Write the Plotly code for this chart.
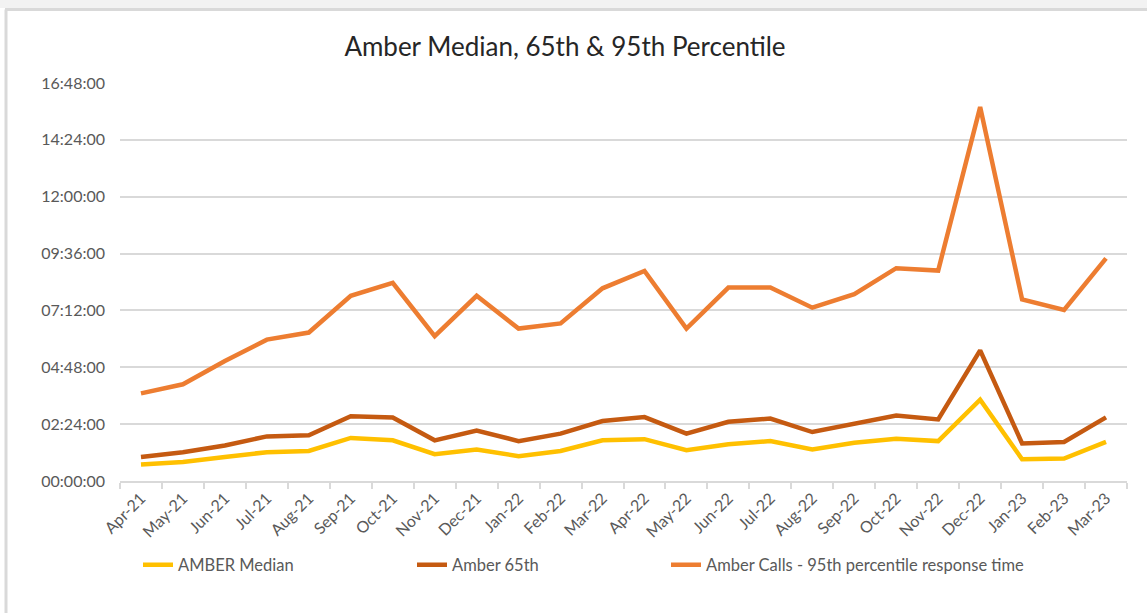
import plotly.graph_objects as go

months = ["Apr-21","May-21","Jun-21","Jul-21","Aug-21","Sep-21","Oct-21","Nov-21","Dec-21",
          "Jan-22","Feb-22","Mar-22","Apr-22","May-22","Jun-22","Jul-22","Aug-22","Sep-22",
          "Oct-22","Nov-22","Dec-22","Jan-23","Feb-23","Mar-23"]

# values in minutes
median_min = [42, 48, 61, 73, 76, 109, 103, 68, 80, 63, 76, 103, 106, 78, 93, 101, 80, 97,
              107, 101, 206, 55, 57, 99]
p65_min = [61, 73, 90, 113, 116, 164, 161, 103, 128, 101, 120, 152, 162, 120, 150, 158, 124, 144,
           166, 156, 331, 95, 99, 161]
p95_min = [222, 245, 304, 358, 376, 469, 502, 367, 469, 386, 399, 488, 532, 386, 490, 490, 439, 473,
           539, 533, 947, 460, 433, 564]

names = ["AMBER Median", "Amber 65th", "Amber Calls - 95th percentile response time"]
colors = ["#FFC000", "#C55A11", "#ED7D31"]

tick_vals = list(range(0, 1009, 144))
def fmt(m):
    return f"{m // 60:02d}:{m % 60:02d}:00"
tick_text = [fmt(v) for v in tick_vals]

W, H = 1147, 613
L, R, T, B = 120, 20, 83, 132
pw, ph = W - L - R, H - T - B

def px2x(px):
    return (px - L) / pw
def py2y(py):
    return (H - B - py) / ph

fig = go.Figure()
series = [median_min, p65_min, p95_min]
legend_ids = ["legend", "legend2", "legend3"]
for s, n, c, lg in zip(series, names, colors, legend_ids):
    fig.add_trace(go.Scatter(x=months, y=s, name=n, mode="lines",
                             line=dict(color=c, width=4.5),
                             legend=lg))

font_family = "Lato, 'Open Sans', sans-serif"
leg_common = dict(orientation="h", yanchor="middle", xanchor="left",
                  font=dict(family=font_family, size=16.5, color="#595959"),
                  bgcolor="rgba(0,0,0,0)")
fig.update_layout(
    width=W, height=H,
    margin=dict(l=L, r=R, t=T, b=B),
    paper_bgcolor="white", plot_bgcolor="white",
    title=dict(text="Amber Median, 65th & 95th Percentile", x=(565) / W, xanchor="center",
               y=1 - 47 / H, yanchor="middle",
               font=dict(family=font_family, size=26, color="#262626")),
    showlegend=True,
    legend=dict(x=px2x(138), y=py2y(565), **leg_common),
    legend2=dict(x=px2x(412), y=py2y(565), **leg_common),
    legend3=dict(x=px2x(666), y=py2y(565), **leg_common),
    xaxis=dict(type="category", showgrid=False, showline=True, linecolor="#d9d9d9", linewidth=1.5,
               ticks="outside", tickson="boundaries", ticklen=6, tickcolor="#d9d9d9", tickwidth=1.5,
               tickangle=-45, tickfont=dict(family=font_family, size=16, color="#595959"),
               range=[-0.5, 23.5]),
    yaxis=dict(range=[0, 1008], tickvals=tick_vals, ticktext=tick_text, showgrid=True,
               gridcolor="#d9d9d9", gridwidth=1.5, zeroline=False, showline=False,
               ticks="", ticklabelstandoff=14,
               tickfont=dict(family=font_family, size=16, color="#595959")),
    shapes=[
        dict(type="rect", xref="paper", yref="paper", x0=px2x(0), x1=px2x(W), y0=py2y(0), y1=py2y(8),
             fillcolor="#f2f2f2", line=dict(width=0), layer="below"),
        dict(type="line", xref="paper", yref="paper", x0=px2x(5), x1=px2x(W), y0=py2y(9.5), y1=py2y(9.5),
             line=dict(color="#d9d9d9", width=3)),
        dict(type="line", xref="paper", yref="paper", x0=px2x(6), x1=px2x(6), y0=py2y(9.5), y1=py2y(H),
             line=dict(color="#d9d9d9", width=3)),
    ],
)

fig.write_html("out.html", config={"displayModeBar": False},
               post_script="document.body.style.margin='0';document.body.style.padding='0';")
